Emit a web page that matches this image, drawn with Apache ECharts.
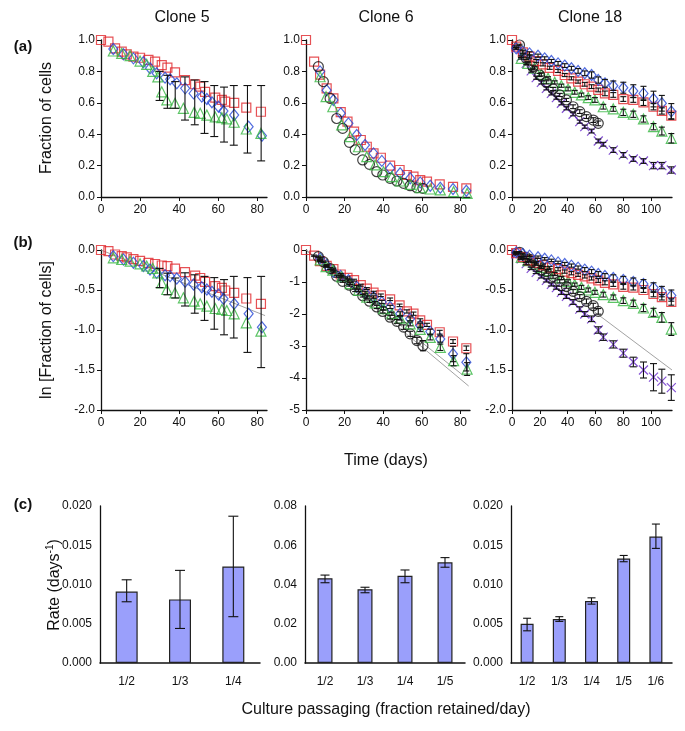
<!DOCTYPE html>
<html><head><meta charset="utf-8">
<script src="https://cdn.jsdelivr.net/npm/echarts@6/dist/echarts.min.js"></script>
<style>html,body{margin:0;padding:0;background:#fff}#c{width:685px;height:731px}</style>
</head><body><div id="c"></div>
<script>
// ---------- tick labels ----------
const xTicks5 = [0, 20, 40, 60, 80];
const xTicks18 = [0, 20, 40, 60, 80, 100];
const yTicksA = [0, 0.2, 0.4, 0.6, 0.8, 1.0];
const yTicksB = [-2.0, -1.5, -1.0, -0.5, 0.0];
const yTicksB6 = [-5, -4, -3, -2, -1, 0];
const yTicksC = [0, 0.005, 0.010, 0.015, 0.020];
const yTicksC6 = [0, 0.02, 0.04, 0.06, 0.08];

// ---------- Clone 5 ----------
const t5Red = [0,3.8,7.2,10.6,13.2,16.6,20,24.3,27.7,31.1,34,37.9,43,48.2,50.8,53.3,58.5,61.9,63.6,68.2,74.4,81.9];
const a5Red = [1.0,0.99,0.947,0.926,0.909,0.894,0.887,0.873,0.862,0.84,0.824,0.794,0.745,0.718,0.703,0.67,0.633,0.618,0.607,0.60,0.569,0.543];
const b5Red = [0,-0.015,-0.056,-0.077,-0.093,-0.114,-0.135,-0.16,-0.175,-0.194,-0.202,-0.232,-0.277,-0.32,-0.35,-0.398,-0.452,-0.473,-0.506,-0.535,-0.606,-0.673];
const t5Blue = [6.3,11.5,16.6,21.7,25.1,28.5,32.8,35.4,38.8,43.1,47.4,51.6,54.2,56.8,60.2,62.7,68.2,75.6,82.4];
const a5Blue = [0.943,0.909,0.883,0.858,0.82,0.788,0.76,0.75,0.724,0.692,0.66,0.639,0.624,0.603,0.575,0.548,0.522,0.448,0.39];
const b5Blue = [-0.077,-0.119,-0.16,-0.2,-0.244,-0.285,-0.315,-0.327,-0.356,-0.398,-0.431,-0.465,-0.494,-0.523,-0.556,-0.61,-0.673,-0.798,-0.965];
const t5Green = [6.3,10.6,14.9,20,23.4,26.5,29.1,31.1,33.7,37.9,42.2,47.7,50.8,54.2,58.5,61.9,64.4,68.2,74.4,81.9];
const a5Green = [0.93,0.915,0.90,0.866,0.845,0.80,0.765,0.67,0.618,0.597,0.565,0.539,0.533,0.522,0.51,0.505,0.497,0.476,0.433,0.405];
const b5Green = [-0.098,-0.119,-0.14,-0.173,-0.2,-0.23,-0.285,-0.41,-0.494,-0.535,-0.598,-0.64,-0.673,-0.702,-0.731,-0.744,-0.756,-0.798,-0.91,-1.015];
const t5Err = [30,34,38,43,48,53,58,63,68,75,82];
const a5ErrHi = [0.80,0.775,0.735,0.765,0.745,0.735,0.71,0.70,0.71,0.71,0.71];
const a5ErrLo = [0.615,0.565,0.565,0.49,0.46,0.405,0.385,0.35,0.33,0.28,0.23];
const b5ErrHi = [-0.23,-0.29,-0.35,-0.285,-0.31,-0.33,-0.345,-0.37,-0.33,-0.345,-0.33];
const b5ErrLo = [-0.47,-0.56,-0.6,-0.7,-0.79,-0.88,-0.99,-1.06,-1.1,-1.28,-1.47];
const fit5 = [[0, 0], [84, -0.82]];

// ---------- Clone 6 ----------
const t6Red = [0,4.2,7.3,10.7,14.2,18,21.5,24.9,28.4,31.5,35,38.8,43.6,48.5,52.3,55.7,59.2,62.7,69.3,76.2,83.1];
const a6Red = [1.0,0.862,0.78,0.692,0.628,0.54,0.48,0.416,0.363,0.32,0.278,0.25,0.2,0.172,0.14,0.13,0.108,0.098,0.08,0.064,0.055];
const b6Red = [0,-0.178,-0.346,-0.493,-0.597,-0.765,-0.87,-0.943,-1.1,-1.205,-1.33,-1.415,-1.54,-1.73,-1.92,-1.99,-2.2,-2.34,-2.57,-2.86,-3.07];
const e6bRed = [0,0.02,0.02,0.02,0.03,0.03,0.03,0.03,0.03,0.03,0.04,0.04,0.04,0.04,0.05,0.05,0.05,0.05,0.06,0.06,0.07];
const t6Black = [6.4,9,12.5,15.9,19,22.5,25.5,29.4,32.9,36.7,39.8,43.6,47.1,50.6,54,57.5,60.6];
const a6Black = [0.83,0.735,0.628,0.5,0.437,0.348,0.30,0.236,0.208,0.161,0.14,0.119,0.102,0.087,0.072,0.059,0.055];
const b6Black = [-0.21,-0.367,-0.58,-0.82,-0.98,-1.1,-1.26,-1.43,-1.6,-1.78,-1.92,-2.1,-2.23,-2.41,-2.62,-2.83,-2.99];
const e6bBlack = [0.02,0.02,0.03,0.03,0.03,0.03,0.04,0.04,0.04,0.05,0.05,0.06,0.06,0.07,0.08,0.1,0.16];
const t6Blue = [7.3,10.7,14.2,18,22,26.3,30.6,35,39.3,43.6,48.8,54,59.2,64.4,69.6,76.2,83.1];
const a6Blue = [0.8,0.68,0.618,0.533,0.469,0.395,0.331,0.278,0.23,0.183,0.151,0.119,0.093,0.072,0.059,0.051,0.04];
const b6Blue = [-0.26,-0.47,-0.68,-0.81,-0.943,-1.15,-1.33,-1.47,-1.625,-1.78,-1.99,-2.15,-2.36,-2.55,-2.78,-3.25,-3.51];
const e6bBlue = [0.02,0.02,0.03,0.03,0.03,0.04,0.04,0.04,0.05,0.05,0.06,0.06,0.07,0.08,0.1,0.24,0.27];
const t6Green = [7.3,10.4,13.9,18.5,22.9,27.2,31.5,35.8,40.2,44.5,48.8,54,59.2,64.4,69.6,76.5,83.5];
const a6Green = [0.766,0.639,0.575,0.459,0.384,0.32,0.257,0.204,0.161,0.13,0.102,0.081,0.059,0.051,0.045,0.034,0.023];
const b6Green = [-0.31,-0.52,-0.63,-0.84,-1.05,-1.26,-1.47,-1.65,-1.83,-1.99,-2.13,-2.31,-2.48,-2.73,-3.04,-3.46,-3.72];
const e6bGreen = [0.02,0.02,0.03,0.03,0.03,0.04,0.04,0.04,0.05,0.05,0.06,0.06,0.07,0.08,0.1,0.16,0.2];
const fit6a = [[0, 0], [84.3, -4.25]];
const fit6b = [[0, 0], [81.7, -3.93]];

// ---------- Clone 18 ----------
const t18Red = [0,3,7.8,12.6,17.4,22.3,27.1,33.1,37.9,42.7,47.5,52.3,57.2,62,66.8,72.8,80,87.2,94.5,101.7,107.7,114.5];
const a18Red = [1.0,0.958,0.921,0.894,0.866,0.845,0.823,0.803,0.777,0.756,0.735,0.718,0.703,0.682,0.66,0.65,0.624,0.618,0.603,0.575,0.548,0.518];
const b18Red = [0,-0.04,-0.09,-0.13,-0.16,-0.19,-0.22,-0.24,-0.27,-0.29,-0.31,-0.33,-0.355,-0.38,-0.41,-0.43,-0.46,-0.47,-0.5,-0.55,-0.59,-0.65];
const e18aRed = [0,0.005,0.01,0.01,0.01,0.01,0.01,0.01,0.01,0.01,0.01,0.012,0.012,0.012,0.015,0.015,0.015,0.015,0.02,0.02,0.02,0.02];
const e18bRed = [0,0.01,0.01,0.015,0.015,0.015,0.015,0.02,0.02,0.02,0.02,0.02,0.02,0.025,0.025,0.025,0.03,0.03,0.03,0.035,0.035,0.04];
const t18Blue = [3,7.8,12.6,18.7,23.5,28.3,33.1,37.9,42.7,47.5,52.3,57.2,62,66.8,72.8,80,87.2,94.5,101.7,107.7,114.5];
const a18Blue = [0.947,0.926,0.915,0.9,0.883,0.866,0.851,0.837,0.82,0.803,0.788,0.777,0.745,0.724,0.709,0.696,0.675,0.66,0.624,0.597,0.545];
const b18Blue = [-0.03,-0.05,-0.07,-0.09,-0.11,-0.13,-0.155,-0.175,-0.195,-0.22,-0.245,-0.27,-0.3,-0.325,-0.35,-0.375,-0.4,-0.425,-0.47,-0.52,-0.57];
const e18aBlue = [0.005,0.01,0.01,0.01,0.01,0.01,0.012,0.012,0.012,0.015,0.015,0.02,0.02,0.025,0.03,0.035,0.04,0.045,0.05,0.05,0.05];
const e18bBlue = [0.01,0.01,0.01,0.015,0.015,0.015,0.015,0.02,0.02,0.02,0.025,0.025,0.03,0.03,0.04,0.045,0.05,0.055,0.06,0.065,0.07];
const t18Green = [6.6,11.4,16.2,21.1,25.9,30.7,35.5,40.3,45.1,49.9,54.8,59.6,65.6,72.8,80,87.2,94.5,101.7,107.7,114.5];
const a18Green = [0.883,0.851,0.82,0.781,0.756,0.73,0.709,0.688,0.667,0.65,0.633,0.618,0.575,0.561,0.539,0.527,0.497,0.448,0.42,0.374];
const b18Green = [-0.092,-0.133,-0.175,-0.217,-0.258,-0.3,-0.35,-0.392,-0.433,-0.467,-0.5,-0.529,-0.558,-0.592,-0.633,-0.667,-0.725,-0.779,-0.842,-0.988];
const e18aGreen = [0.005,0.01,0.01,0.01,0.01,0.01,0.01,0.012,0.012,0.012,0.012,0.015,0.015,0.015,0.02,0.02,0.02,0.02,0.025,0.03];
const e18bGreen = [0.01,0.01,0.015,0.015,0.015,0.02,0.02,0.02,0.02,0.025,0.025,0.025,0.03,0.03,0.035,0.04,0.045,0.05,0.06,0.08];
const t18Black = [5.4,10.2,15,19.9,24.7,29.5,34.3,39.1,43.9,48.7,53.5,58.4,62];
const a18Black = [0.968,0.883,0.83,0.777,0.73,0.688,0.65,0.618,0.575,0.544,0.512,0.49,0.469];
const b18Black = [-0.029,-0.092,-0.142,-0.208,-0.271,-0.333,-0.392,-0.458,-0.517,-0.583,-0.642,-0.696,-0.767];
const e18aBlack = [0.005,0.008,0.01,0.01,0.01,0.01,0.01,0.01,0.012,0.012,0.012,0.015,0.015];
const e18bBlack = [0.01,0.015,0.015,0.015,0.02,0.02,0.02,0.02,0.025,0.025,0.03,0.03,0.035];
const t18Purple = [3,6.6,10.2,13.8,17.4,21.1,24.7,28.3,31.9,35.5,39.1,43.9,48.7,52.3,57.2,62,65.6,72.8,80,87.2,94.5,101.7,107.7,114.5];
const a18Purple = [0.947,0.894,0.851,0.803,0.76,0.73,0.692,0.66,0.633,0.597,0.565,0.527,0.48,0.448,0.42,0.357,0.336,0.299,0.268,0.242,0.229,0.2,0.2,0.172];
const b18Purple = [-0.05,-0.11,-0.17,-0.23,-0.28,-0.33,-0.38,-0.43,-0.47,-0.53,-0.58,-0.65,-0.74,-0.8,-0.86,-1.0,-1.09,-1.18,-1.29,-1.4,-1.5,-1.59,-1.64,-1.72];
const e18aPurple = [0.005,0.005,0.008,0.008,0.01,0.01,0.01,0.01,0.01,0.01,0.01,0.01,0.01,0.01,0.012,0.012,0.012,0.015,0.015,0.015,0.015,0.02,0.02,0.02];
const e18bPurple = [0.01,0.01,0.015,0.015,0.015,0.02,0.02,0.02,0.02,0.025,0.025,0.03,0.03,0.03,0.035,0.04,0.04,0.045,0.05,0.06,0.1,0.17,0.15,0.16];
const fit18 = [[0, 0], [115, -1.5]];

// ---------- (c) rates ----------
const c5Cats = ['1/2', '1/3', '1/4'];
const c5Rate = [0.0091, 0.0081, 0.0123];
const c5Lo = [0.0078, 0.0044, 0.0059];
const c5Hi = [0.0106, 0.0118, 0.0187];
const c6Cats = ['1/2', '1/3', '1/4', '1/5'];
const c6Rate = [0.0432, 0.0376, 0.0444, 0.0513];
const c6Lo = [0.0409, 0.0358, 0.0409, 0.0488];
const c6Hi = [0.0448, 0.0386, 0.0474, 0.0537];
const c18Cats = ['1/2', '1/3', '1/4', '1/5', '1/6'];
const c18Rate = [0.0050, 0.0056, 0.0079, 0.0133, 0.0161];
const c18Lo = [0.0041, 0.0053, 0.0075, 0.0129, 0.0146];
const c18Hi = [0.0057, 0.0059, 0.0083, 0.0137, 0.0177];

// ---------- styles ----------
const FONT = '"Liberation Sans", Arial, Helvetica, sans-serif';
const INK = '#111';
const RED = {symbol: 'rect', size: 9, color: '#e0252b'};
const BLUE = {symbol: 'diamond', size: [9, 11], color: '#2446d6'};
const GREEN = {symbol: 'triangle', size: 10, color: '#35b540'};
const BLACK = {symbol: 'circle', size: 10, color: '#111'};
const PURPLE = {symbol: 'path://M0,0L10,10M10,0L0,10', size: 9, color: '#6526c9'};

const grids = [
  {left: 101, top: 40, width: 166, height: 157},
  {left: 306, top: 40, width: 164, height: 157},
  {left: 512, top: 40, width: 160, height: 157},
  {left: 101, top: 250, width: 166, height: 160},
  {left: 306, top: 250, width: 164, height: 160},
  {left: 512, top: 250, width: 160, height: 160},
  {left: 100, top: 506, width: 160, height: 157},
  {left: 305, top: 506, width: 160, height: 157},
  {left: 511, top: 506, width: 161, height: 157}
];

function lineAxis(g, min, max, ticks, fmt, isY) {
  return {
    gridIndex: g, type: 'value', min: min, max: max,
    axisLine: {show: true, onZero: false, lineStyle: {color: INK, width: 1.3}},
    axisTick: {show: true, customValues: ticks, length: 4, lineStyle: {color: INK, width: 1}},
    axisLabel: {customValues: ticks, formatter: fmt, fontSize: 12, color: INK, fontFamily: FONT, margin: isY ? 6 : 7},
    splitLine: {show: false}
  };
}
const f1 = v => v.toFixed(1);
const f0 = v => String(v);
const fint = v => String(v);

const xAxes = [], yAxes = [];
xAxes.push(lineAxis(0, 0, 85, xTicks5, fint));
xAxes.push(lineAxis(1, 0, 85, xTicks5, fint));
xAxes.push(lineAxis(2, 0, 115, xTicks18, fint));
yAxes.push(lineAxis(0, 0, 1, yTicksA, f1, true));
yAxes.push(lineAxis(1, 0, 1, yTicksA, f1, true));
yAxes.push(lineAxis(2, 0, 1, yTicksA, f1, true));
xAxes.push(lineAxis(3, 0, 85, xTicks5, fint));
xAxes.push(lineAxis(4, 0, 85, xTicks5, fint));
xAxes.push(lineAxis(5, 0, 115, xTicks18, fint));
yAxes.push(lineAxis(3, -2, 0, yTicksB, f1, true));
yAxes.push(lineAxis(4, -5, 0, yTicksB6, f0, true));
yAxes.push(lineAxis(5, -2, 0, yTicksB, f1, true));
function catAxis(g, cats) {
  return {gridIndex: g, type: 'category', data: cats,
    axisLine: {lineStyle: {color: INK, width: 1.5}}, axisTick: {show: false},
    axisLabel: {fontSize: 12, color: INK, fontFamily: FONT, margin: 13}};
}
function rateAxis(g, max, ticks, digits) {
  return {gridIndex: g, type: 'value', min: 0, max: max, interval: ticks[1] - ticks[0],
    axisLine: {show: true, lineStyle: {color: INK, width: 1.3}}, axisTick: {show: false},
    axisLabel: {formatter: v => v.toFixed(digits), fontSize: 12, color: INK, fontFamily: FONT, margin: 8},
    splitLine: {show: false}};
}
xAxes.push(catAxis(6, c5Cats)); xAxes.push(catAxis(7, c6Cats)); xAxes.push(catAxis(8, c18Cats));
yAxes.push(rateAxis(6, 0.02, yTicksC, 3)); yAxes.push(rateAxis(7, 0.08, yTicksC6, 2)); yAxes.push(rateAxis(8, 0.02, yTicksC, 3));

const series = [];
function scat(g, t, v, s) {
  series.push({type: 'scatter', xAxisIndex: g, yAxisIndex: g, data: t.map((x, i) => [x, v[i]]),
    symbol: s.symbol, symbolSize: s.size, silent: true, z: 3,
    itemStyle: {color: 'rgba(0,0,0,0)', borderColor: s.color, borderWidth: 1.2}});
}
function errRender(cap) {
  return function (params, api) {
    const x = api.value(0), lo = api.value(1), hi = api.value(2);
    const a = api.coord([x, lo]), b = api.coord([x, hi]);
    const st = {stroke: INK, lineWidth: 1.1};
    return {type: 'group', children: [
      {type: 'line', shape: {x1: a[0], y1: a[1], x2: b[0], y2: b[1]}, style: st},
      {type: 'line', shape: {x1: a[0] - cap, y1: a[1], x2: a[0] + cap, y2: a[1]}, style: st},
      {type: 'line', shape: {x1: b[0] - cap, y1: b[1], x2: b[0] + cap, y2: b[1]}, style: st}
    ]};
  };
}
function errLH(g, t, lo, hi, cap) {
  series.push({type: 'custom', xAxisIndex: g, yAxisIndex: g, silent: true, z: 4,
    data: t.map((x, i) => [x, lo[i], hi[i]]), encode: {x: 0, y: [1, 2]}, renderItem: errRender(cap)});
}
function errSym(g, t, v, e, cap) {
  const d = [];
  t.forEach((x, i) => { if (e[i] > 0) d.push([x, v[i] - e[i], v[i] + e[i]]); });
  series.push({type: 'custom', xAxisIndex: g, yAxisIndex: g, silent: true, z: 4,
    data: d, encode: {x: 0, y: [1, 2]}, renderItem: errRender(cap)});
}
function fit(g, pts) {
  series.push({type: 'line', xAxisIndex: g, yAxisIndex: g, data: pts, symbol: 'none', silent: true, z: 2,
    lineStyle: {color: '#8a8a8a', width: 0.8}});
}

// Clone 5
scat(0, t5Red, a5Red, RED); scat(0, t5Blue, a5Blue, BLUE); scat(0, t5Green, a5Green, GREEN);
errLH(0, t5Err, a5ErrLo, a5ErrHi, 4);
fit(3, fit5);
scat(3, t5Red, b5Red, RED); scat(3, t5Blue, b5Blue, BLUE); scat(3, t5Green, b5Green, GREEN);
errLH(3, t5Err, b5ErrLo, b5ErrHi, 4);
// Clone 6
scat(1, t6Red, a6Red, RED); scat(1, t6Blue, a6Blue, BLUE); scat(1, t6Black, a6Black, BLACK); scat(1, t6Green, a6Green, GREEN);
fit(4, fit6a); fit(4, fit6b);
scat(4, t6Red, b6Red, RED); scat(4, t6Blue, b6Blue, BLUE); scat(4, t6Black, b6Black, BLACK); scat(4, t6Green, b6Green, GREEN);
errSym(4, t6Red, b6Red, e6bRed, 3); errSym(4, t6Blue, b6Blue, e6bBlue, 3);
errSym(4, t6Black, b6Black, e6bBlack, 3); errSym(4, t6Green, b6Green, e6bGreen, 3);
// Clone 18
scat(2, t18Purple, a18Purple, PURPLE); scat(2, t18Green, a18Green, GREEN); scat(2, t18Black, a18Black, BLACK);
scat(2, t18Red, a18Red, RED); scat(2, t18Blue, a18Blue, BLUE);
errSym(2, t18Purple, a18Purple, e18aPurple, 3); errSym(2, t18Green, a18Green, e18aGreen, 3);
errSym(2, t18Black, a18Black, e18aBlack, 3); errSym(2, t18Red, a18Red, e18aRed, 3); errSym(2, t18Blue, a18Blue, e18aBlue, 3);
fit(5, fit18);
scat(5, t18Purple, b18Purple, PURPLE); scat(5, t18Green, b18Green, GREEN); scat(5, t18Black, b18Black, BLACK);
scat(5, t18Red, b18Red, RED); scat(5, t18Blue, b18Blue, BLUE);
errSym(5, t18Purple, b18Purple, e18bPurple, 3.5); errSym(5, t18Green, b18Green, e18bGreen, 3);
errSym(5, t18Black, b18Black, e18bBlack, 3); errSym(5, t18Red, b18Red, e18bRed, 3); errSym(5, t18Blue, b18Blue, e18bBlue, 3);

// (c) bars
function bars(g, vals, lo, hi, w, cap) {
  series.push({type: 'bar', xAxisIndex: g, yAxisIndex: g, data: vals, barWidth: w, silent: true,
    itemStyle: {color: '#9a9ffb', borderColor: '#222', borderWidth: 1.2}});
  series.push({type: 'custom', xAxisIndex: g, yAxisIndex: g, silent: true, z: 4,
    data: vals.map((v, i) => [i, lo[i], hi[i]]), encode: {x: 0, y: [1, 2]}, renderItem: errRender(cap)});
}
bars(6, c5Rate, c5Lo, c5Hi, 22, 5);
bars(7, c6Rate, c6Lo, c6Hi, 15, 4.5);
bars(8, c18Rate, c18Lo, c18Hi, 13, 4);

function txt(x, y, text, size, opts) {
  return Object.assign({type: 'text', x: x, y: y, silent: true,
    style: {text: text, font: (opts && opts.bold ? 'bold ' : '') + size + 'px ' + FONT, fill: INK, align: 'center', verticalAlign: 'middle'}},
    opts && opts.rot ? {rotation: Math.PI / 2} : {});
}
const graphics = [
  txt(182, 18, 'Clone 5', 16), txt(386, 18, 'Clone 6', 16), txt(590, 18, 'Clone 18', 16),
  txt(23, 47, '(a)', 15, {bold: true}), txt(23, 243, '(b)', 15, {bold: true}), txt(23, 505, '(c)', 15, {bold: true}),
  txt(47, 118, 'Fraction of cells', 16, {rot: true}),
  txt(47, 330, 'ln [Fraction of cells]', 16, {rot: true}),
  txt(386, 461, 'Time (days)', 16),
  txt(386, 710, 'Culture passaging (fraction retained/day)', 16),
  {type: 'text', x: 55, y: 585, rotation: Math.PI / 2, silent: true,
    style: {text: '{n|Rate (days}{s|-1}{n|)}', align: 'center', verticalAlign: 'middle', fill: INK,
      rich: {n: {fontSize: 16, fontFamily: FONT, lineHeight: 20, fill: INK}, s: {fontSize: 10, fontFamily: FONT, lineHeight: 20, verticalAlign: 'top', fill: INK}}}}
];

const chart = echarts.init(document.getElementById('c'));
chart.setOption({
  animation: false,
  backgroundColor: '#fff',
  textStyle: {fontFamily: FONT},
  grid: grids,
  xAxis: xAxes,
  yAxis: yAxes,
  series: series,
  graphic: graphics
});
</script></body></html>
